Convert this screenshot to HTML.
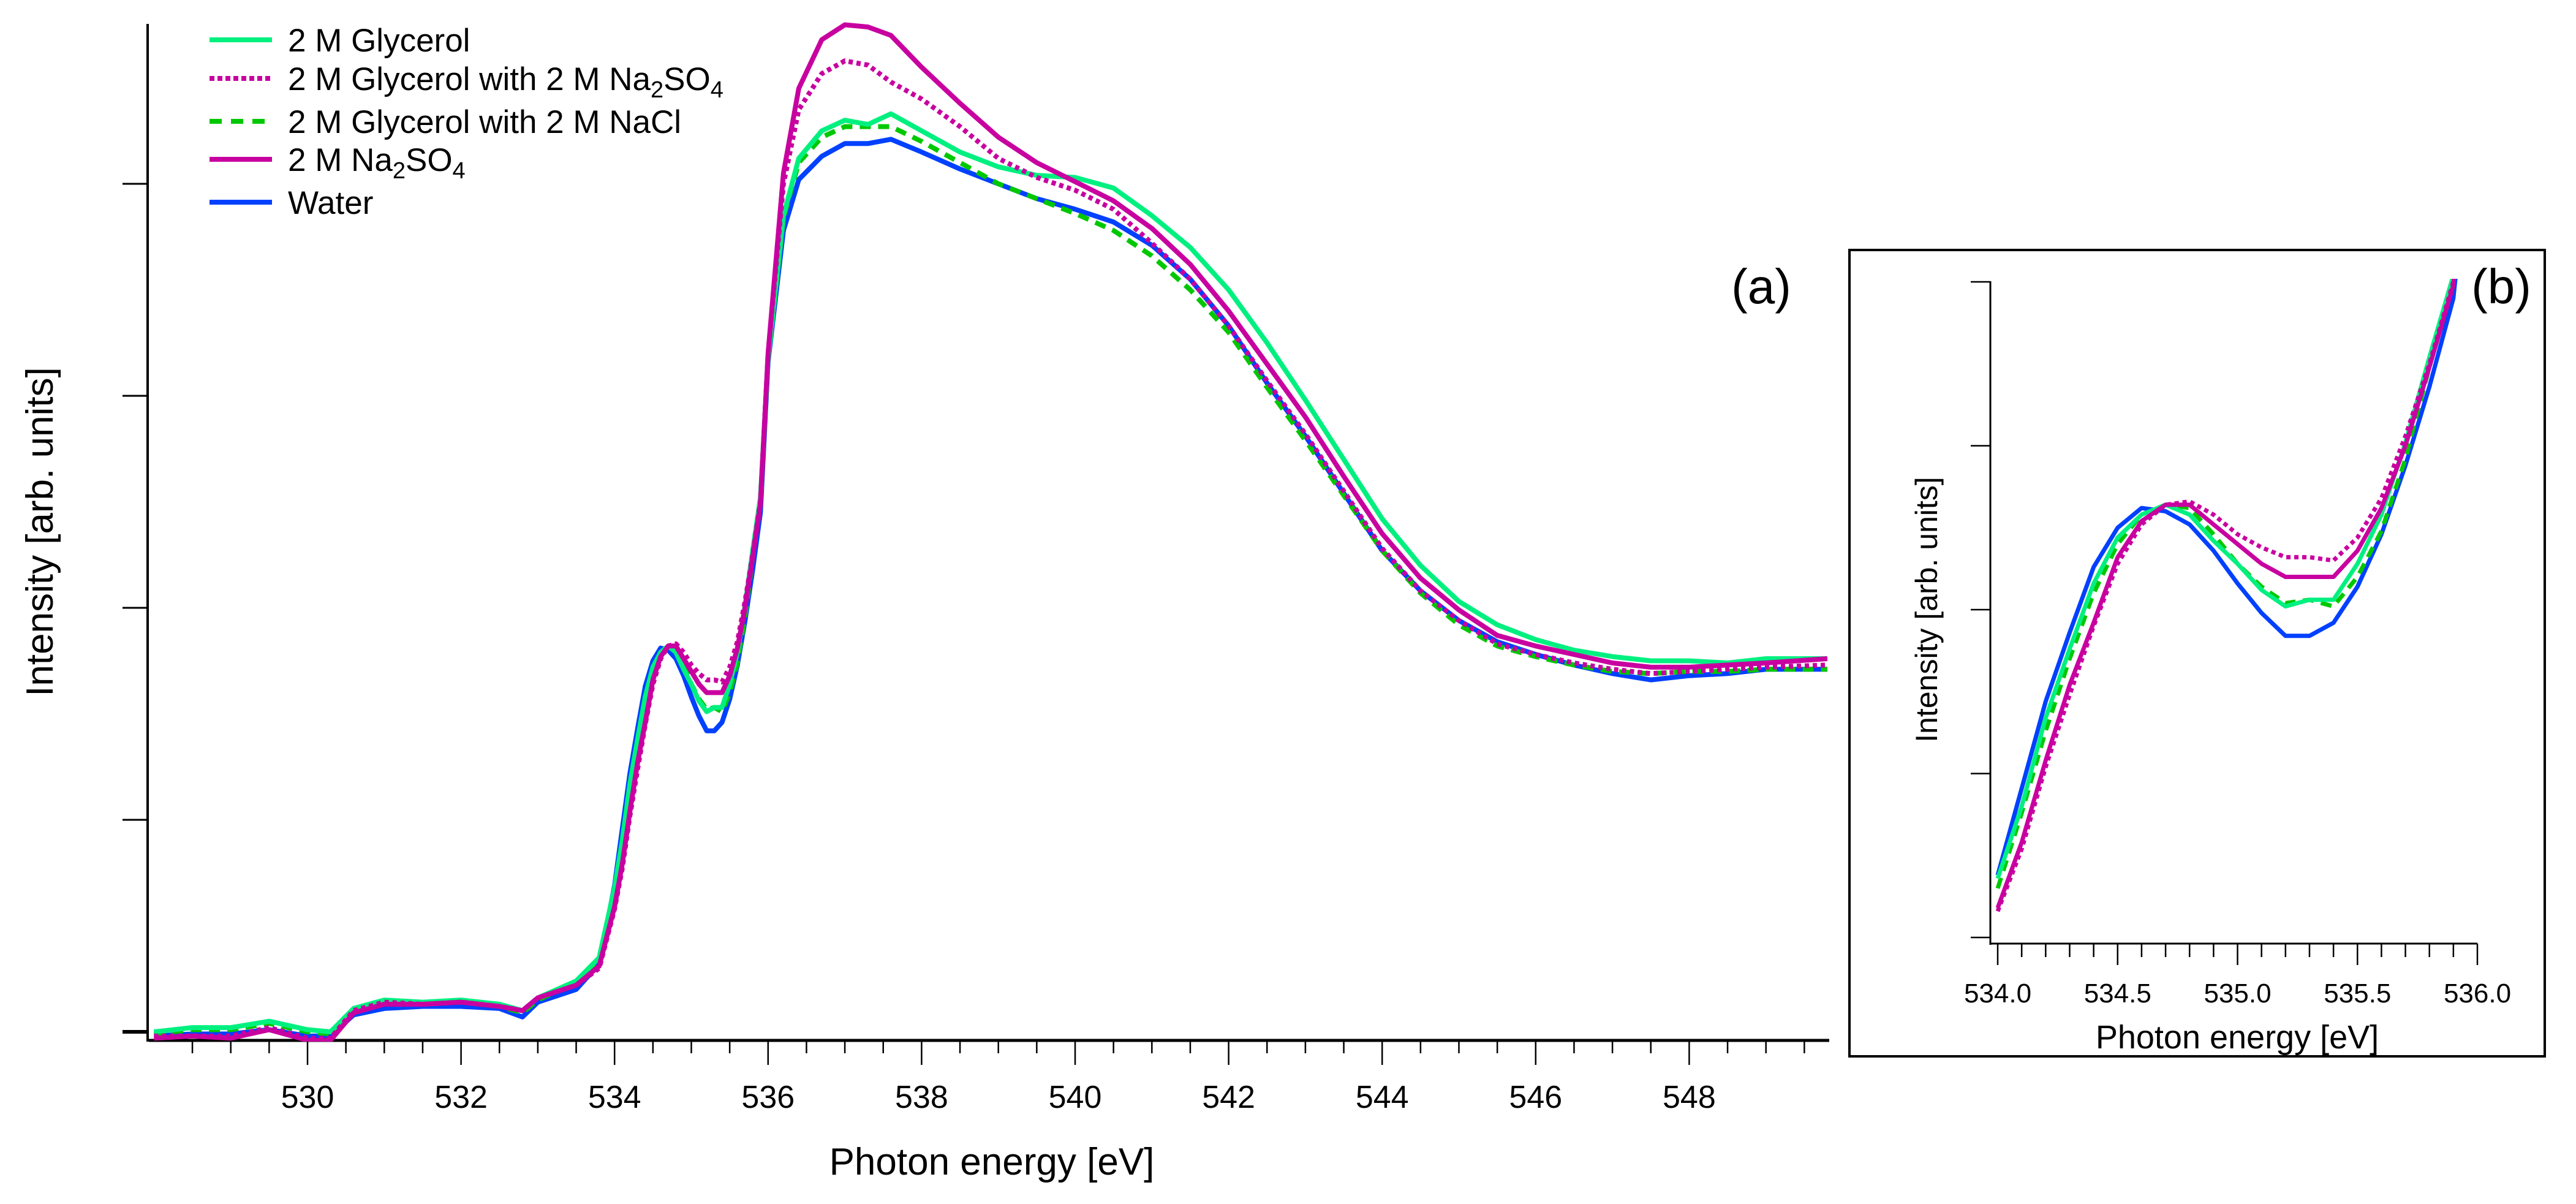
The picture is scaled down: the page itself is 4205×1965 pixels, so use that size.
<!DOCTYPE html>
<html><head><meta charset="utf-8"><style>
html,body{margin:0;padding:0;background:#fff;}
svg{display:block;font-family:"Liberation Sans",sans-serif;}
</style></head><body>
<svg id="chart" width="4205" height="1965" viewBox="0 0 4205 1965" xmlns="http://www.w3.org/2000/svg">
<defs>
<clipPath id="mainClip"><rect x="243" y="0" width="2745" height="1700"/></clipPath>
<clipPath id="insetClip"><rect x="3250" y="455" width="796" height="1085"/></clipPath>
</defs>
<g id="main"></g>
<g id="inset"></g>
</svg>
<script>
// ---- data ----
const energies = [528.0,528.5,529,529.5,530,530.3,530.6,531,531.5,532,532.5,532.8,533,533.5,533.8,
 534.0,534.1,534.2,534.3,534.4,534.5,534.6,534.7,534.8,534.9,535.0,535.1,535.2,535.3,535.4,535.5,535.6,535.7,535.8,535.9,
 536.0,536.2,536.4,536.7,537.0,537.3,537.6,538.0,538.5,539,539.5,540,540.5,541,541.5,542,542.5,543,543.5,544,544.5,545,545.5,546,546.5,547,547.5,548,548.5,549,549.8];
const glycerol = [0.0,0.02,0.02,0.05,0.01,0.0,0.11,0.15,0.14,0.15,0.13,0.10,0.16,0.24,0.35,
 0.68,0.90,1.17,1.38,1.58,1.72,1.79,1.82,1.79,1.71,1.64,1.56,1.51,1.53,1.53,1.64,1.79,2.01,2.27,2.52,
 3.18,3.85,4.12,4.25,4.30,4.28,4.33,4.25,4.15,4.08,4.04,4.03,3.98,3.85,3.70,3.50,3.25,2.98,2.70,2.42,2.20,2.03,1.92,1.85,1.80,1.77,1.75,1.75,1.74,1.76,1.76];
const glycerolNa2SO4 = [-0.02,-0.02,-0.02,0.02,-0.03,-0.03,0.10,0.14,0.13,0.14,0.12,0.10,0.16,0.22,0.30,
 0.58,0.77,1.02,1.24,1.45,1.64,1.76,1.82,1.83,1.79,1.73,1.69,1.66,1.66,1.65,1.72,1.84,2.03,2.25,2.50,
 3.20,4.00,4.35,4.52,4.58,4.56,4.48,4.40,4.27,4.12,4.03,3.97,3.88,3.72,3.55,3.33,3.07,2.82,2.55,2.28,2.08,1.94,1.83,1.78,1.74,1.71,1.69,1.70,1.71,1.72,1.73];
const glycerolNaCl = [-0.01,0.01,0.01,0.04,0.0,-0.01,0.10,0.14,0.13,0.14,0.12,0.09,0.15,0.23,0.34,
 0.65,0.88,1.13,1.35,1.55,1.70,1.79,1.82,1.81,1.73,1.64,1.57,1.52,1.53,1.51,1.60,1.74,1.96,2.24,2.49,
 3.17,3.84,4.10,4.22,4.27,4.27,4.27,4.20,4.10,4.00,3.93,3.86,3.78,3.66,3.50,3.30,3.04,2.79,2.53,2.27,2.07,1.92,1.82,1.77,1.73,1.70,1.69,1.70,1.70,1.71,1.71];
const na2so4 = [-0.03,-0.02,-0.03,0.01,-0.04,-0.04,0.09,0.13,0.13,0.14,0.12,0.10,0.16,0.22,0.31,
 0.59,0.79,1.04,1.27,1.46,1.66,1.77,1.82,1.82,1.76,1.70,1.64,1.60,1.60,1.60,1.68,1.81,2.00,2.24,2.49,
 3.20,4.05,4.45,4.68,4.75,4.74,4.70,4.55,4.38,4.22,4.10,4.01,3.92,3.79,3.62,3.40,3.15,2.90,2.62,2.35,2.14,1.99,1.87,1.82,1.78,1.74,1.72,1.72,1.73,1.74,1.76];
const water = [-0.02,-0.01,-0.01,0.01,-0.02,-0.02,0.08,0.11,0.12,0.12,0.11,0.07,0.14,0.20,0.32,
 0.69,0.955,1.22,1.43,1.63,1.75,1.81,1.80,1.76,1.68,1.58,1.49,1.42,1.42,1.46,1.57,1.73,1.94,2.18,2.45,
 3.16,3.78,4.02,4.13,4.19,4.19,4.21,4.15,4.07,4.00,3.93,3.88,3.82,3.71,3.55,3.33,3.06,2.81,2.54,2.27,2.08,1.94,1.84,1.78,1.73,1.69,1.66,1.68,1.69,1.71,1.71];
const seriesNames = ["2 M Glycerol","2 M Glycerol with 2 M Na2SO4","2 M Glycerol with 2 M NaCl","2 M Na2SO4","Water"];
const mainXTicks = [530,532,534,536,538,540,542,544,546,548];
const mainYTicks = [0,1,2,3,4];
const insetXTicks = [534.0,534.5,535.0,535.5,536.0];
const insetYTicks = [0.5,1.0,1.5,2.0,2.5];

// ---- styles ----
const seriesData = [glycerol, glycerolNa2SO4, glycerolNaCl, na2so4, water];
const colors = ["#00F080","#C800A0","#00C800","#C800A0","#0040FF"];
const dashes = [null,"7 6","18 12",null,null];
const drawOrder = [4,2,0,1,3];
const NS = "http://www.w3.org/2000/svg";
function el(tag, attrs, parent){const e=document.createElementNS(NS,tag);for(const k in attrs)e.setAttribute(k,attrs[k]);parent.appendChild(e);return e;}

// axes functions
const mx = e => 502 + (e-530)*125.3;
const my = v => 1684 - v*346;
const ix = e => 3261 + (e-534)*391.5;
const iy = v => 995 - (v-1.5)*535;

const main = document.getElementById('main');
const inset = document.getElementById('inset');

// ---- main axes ----
let a = el('line',{x1:241,y1:39,x2:241,y2:1700,stroke:'#000','stroke-width':4},main);


a = el('line',{x1:243,y1:1698,x2:2986,y2:1698,stroke:'#000','stroke-width':5},main);


for(let e=528.5;e<=549.6;e+=0.5){
  const major = Math.abs(e-Math.round(e))<1e-6 && Math.round(e)%2===0;
  const t = el('line',{x1:mx(e),y1:1698,x2:mx(e),y2:major?1738:1719,stroke:'#000','stroke-width':2.5},main);
  
  
}
mainXTicks.forEach(v=>{
  const t = el('text',{x:mx(v),y:1808,'font-size':52,'text-anchor':'middle'},main);
  t.textContent=v;
  
  
});
mainYTicks.forEach(v=>{
  const t = el('line',{x1:200,y1:my(v),x2:241,y2:my(v),stroke:'#000','stroke-width':v===0?6:3},main);
  
  
});
let tt = el('text',{x:1619,y:1917,'font-size':62,'text-anchor':'middle'},main);
tt.textContent='Photon energy [eV]';


tt = el('text',{x:0,y:0,'font-size':62,'text-anchor':'middle',transform:'translate(86,868) rotate(-90)'},main);
tt.textContent='Intensity [arb. units]';


tt = el('text',{x:2875,y:495,'font-size':80,'text-anchor':'middle'},main);
tt.textContent='(a)';



// main series
const mg = el('g',{'clip-path':'url(#mainClip)'},main);
drawOrder.forEach(i=>{
  const d = seriesData[i].map((v,k)=>(k?'L':'M')+mx(energies[k]).toFixed(1)+' '+my(v).toFixed(1)).join(' ');
  const p = el('path',{d:d,fill:'none',stroke:colors[i],'stroke-width':8,'stroke-linejoin':'round'},mg);
  if(dashes[i]) p.setAttribute('stroke-dasharray',dashes[i]);
  
  
});

// legend
const legY=[65,128,198,260,330];
const legLabels=['2 M Glycerol','2 M Glycerol with 2 M Na<tspan font-size="38" dy="12">2</tspan><tspan dy="-12">SO</tspan><tspan font-size="38" dy="12">4</tspan>','2 M Glycerol with 2 M NaCl','2 M Na<tspan font-size="38" dy="12">2</tspan><tspan dy="-12">SO</tspan><tspan font-size="38" dy="12">4</tspan>','Water'];
const leg = el('g',{},main);


legY.forEach((y,i)=>{
  const g = el('g',{},leg);
  
  
  const l = el('line',{x1:342,y1:y,x2:444,y2:y,stroke:colors[i],'stroke-width':8},g);
  if(dashes[i]) l.setAttribute('stroke-dasharray',i===1?'8 5':'20 15');
  const t = el('text',{x:470,y:y+19,'font-size':53},g);
  t.innerHTML = legLabels[i];
});

// ---- inset ----
let b = el('rect',{x:3019,y:408,width:1135,height:1316,fill:'none',stroke:'#000','stroke-width':4},inset);


b = el('line',{x1:3249,y1:459,x2:3249,y2:1542,stroke:'#000','stroke-width':3},inset);


b = el('line',{x1:3249,y1:1540,x2:4044,y2:1540,stroke:'#000','stroke-width':3},inset);


for(let k=0;k<=20;k++){
  const e = 534+k*0.1;
  const t = el('line',{x1:ix(e),y1:1540,x2:ix(e),y2:k%5===0?1575:1562,stroke:'#000','stroke-width':2.5},inset);
  
  
}
insetXTicks.forEach(v=>{
  const t = el('text',{x:ix(v),y:1636,'font-size':44,'text-anchor':'middle'},inset);
  t.textContent=v.toFixed(1);
  
  
});
insetYTicks.forEach(v=>{
  const t = el('line',{x1:3217,y1:iy(v),x2:3249,y2:iy(v),stroke:'#000','stroke-width':2.5},inset);
  
  
});
tt = el('text',{x:3652,y:1711,'font-size':54,'text-anchor':'middle'},inset);
tt.textContent='Photon energy [eV]';


tt = el('text',{x:0,y:0,'font-size':50,'text-anchor':'middle',transform:'translate(3162,995) rotate(-90)'},inset);
tt.textContent='Intensity [arb. units]';


tt = el('text',{x:4083,y:495,'font-size':80,'text-anchor':'middle'},inset);
tt.textContent='(b)';


const ig = el('g',{'clip-path':'url(#insetClip)'},inset);
drawOrder.forEach(i=>{
  const pts=[];
  energies.forEach((e,k)=>{ if(e>=534.0 && e<=536.0) pts.push((pts.length?'L':'M')+ix(e).toFixed(1)+' '+iy(seriesData[i][k]).toFixed(1)); });
  const p = el('path',{d:pts.join(' '),fill:'none',stroke:colors[i],'stroke-width':7,'stroke-linejoin':'round'},ig);
  if(dashes[i]) p.setAttribute('stroke-dasharray',i===1?'7 6':'18 12');
  
  
});
</script>
</body></html>
